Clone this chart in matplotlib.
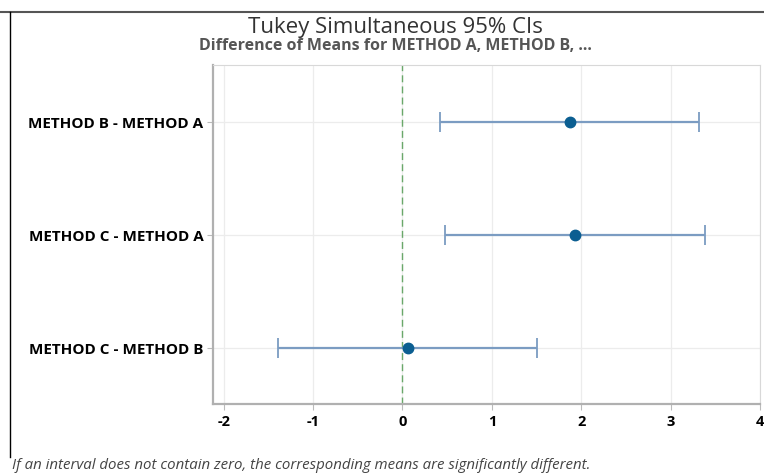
import matplotlib.pyplot as plt
from matplotlib.lines import Line2D

plt.rcParams.update({'font.size': 10, 'font.family': ['Open Sans', 'DejaVu Sans']})

# -------------------------------------------------------------------------------

comparisons = ['METHOD B - METHOD A', 'METHOD C - METHOD A', 'METHOD C - METHOD B']
diff_means = [1.87, 1.93, 0.06]
lower = [0.42, 0.48, -1.39]
upper = [3.32, 3.38, 1.51]
x_ticks = [-2, -1, 0, 1, 2, 3, 4]

# -------------------------------------------------------------------------------

fig = plt.figure(figsize=(7.64, 4.77), dpi=100)
ax = fig.add_axes([213 / 764, 1 - 405 / 477, (760 - 213) / 764, (405 - 66) / 477])

ypos = [3, 2, 1]
for y, m, lo, hi in zip(ypos, diff_means, lower, upper):
    ax.errorbar(m, y, xerr=[[m - lo], [hi - m]], fmt='none', ecolor='#7b9cc2',
                elinewidth=1.6, capsize=7, capthick=1.3, zorder=2)
    ax.plot(m, y, 'o', color='#0b5e91', markersize=7.5, zorder=3)

ax.axvline(0, color='#6aa86a', linestyle=(0, (5, 3)), linewidth=1.0, zorder=1)

ax.set_xlim(-2.12, 3.99)
ax.set_ylim(0.5, 3.5)
ax.set_xticks(x_ticks)
ax.set_xticklabels([str(t) for t in x_ticks], fontweight='bold', fontsize=10.5)
ax.set_yticks(ypos)
ax.set_yticklabels(comparisons, fontweight='bold', fontsize=11)
ax.grid(True, color='#ececec', linewidth=0.9, zorder=0)
ax.set_axisbelow(True)
ax.tick_params(axis='both', length=4, color='#bbbbbb', pad=3)
ax.tick_params(axis='y', length=4, pad=3)

for side in ['top', 'right']:
    ax.spines[side].set_color('#d8d8d8')
    ax.spines[side].set_linewidth(0.8)
for side in ['left', 'bottom']:
    ax.spines[side].set_color('#b0b0b0')
    ax.spines[side].set_linewidth(1.6)

# titles
fig.text(0.517, 1 - 27 / 477, 'Tukey Simultaneous 95% CIs', ha='center', va='center',
         fontsize=16, fontweight='medium', color='#333333')
fig.text(0.517, 1 - 46 / 477, 'Difference of Means for METHOD A, METHOD B, ...',
         ha='center', va='center', fontsize=11.5, fontweight='bold', color='#555555')

# footnote
fig.text(12 / 764, 1 - 466 / 477,
         'If an interval does not contain zero, the corresponding means are significantly different.',
         ha='left', va='center', fontsize=10.8, style='italic', color='#444444')

# outer frame lines of the screenshot
fig.add_artist(Line2D([0, 1], [1 - 13 / 477, 1 - 13 / 477], color='#555555', linewidth=1.5))
fig.add_artist(Line2D([10 / 764, 10 / 764], [1 - 13 / 477, 1 - 458 / 477], color='black', linewidth=1.0))

plt.savefig('out.png', dpi=100)
